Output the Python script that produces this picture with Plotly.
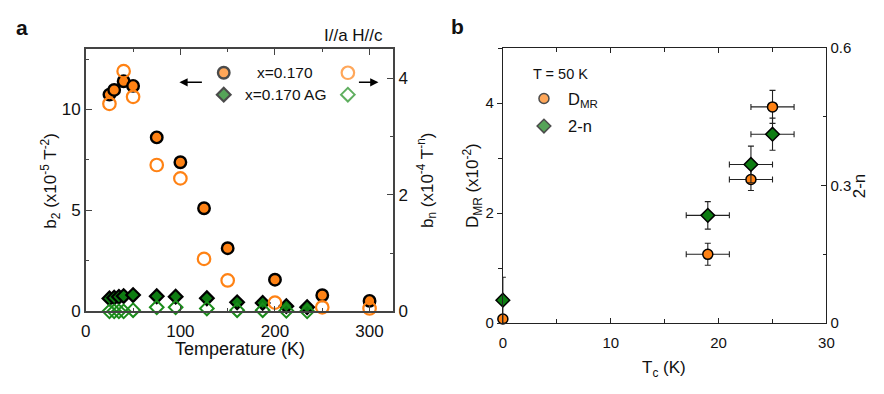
import plotly.graph_objects as go

W, H = 884, 394
FONT = "Liberation Sans, Arial, sans-serif"
ORANGE = "#FF8214"
GREEN = "#0E7D12"
GREEN_OPEN = "#1B8C1B"

# ---------------- data: panel a ----------------
T_b2 = [25, 30, 40, 50, 75, 100, 125, 150, 200, 250, 300]
b2 = [10.74, 10.97, 11.4, 11.17, 8.62, 7.39, 5.11, 3.13, 1.57, 0.8, 0.52]

T_bn = [25, 40, 50, 75, 100, 125, 150, 200, 250, 300]
bn = [3.56, 4.12, 3.68, 2.51, 2.28, 0.90, 0.53, 0.15, 0.07, 0.05]

T_ag = [25, 30, 35, 40, 50, 75, 95, 128, 160, 187, 212, 234]
b2_ag = [0.64, 0.68, 0.72, 0.76, 0.81, 0.75, 0.73, 0.65, 0.45, 0.42, 0.26, 0.21]
bn_ag = [0.0, 0.0, 0.0, 0.0, 0.02, 0.07, 0.07, 0.05, 0.02, 0.02, 0.01, 0.0]

# ---------------- data: panel b ----------------
Tc = [0, 19, 23, 25]
Tc_err = [0, 2, 2, 2]
D_MR = [0.075, 1.25, 2.61, 3.93]
D_MR_err = [0, 0.2, 0.2, 0.3]
two_n = [0.05, 0.235, 0.346, 0.412]
two_n_err = [0.05, 0.03, 0.04, 0.035]

# legend glyph layout (pixel positions on an invisible full-page axis)
LEG_A = dict(x=[222, 348, 222, 348], y=[67, 67, 90, 90])
LEG_B = dict(x=[547, 547], y=[94, 123])


def px(x):
    return x / W


def py(y):
    return 1 - y / H


fig = go.Figure()

# panel a: left axis traces
fig.add_trace(go.Scatter(
    x=T_ag, y=b2_ag, mode="markers", xaxis="x", yaxis="y", cliponaxis=False,
    marker=dict(symbol="diamond", size=10.5, color=GREEN, line=dict(color="black", width=2.2))))
fig.add_trace(go.Scatter(
    x=T_b2, y=b2, mode="markers", xaxis="x", yaxis="y", cliponaxis=False,
    marker=dict(symbol="circle", size=11.5, color=ORANGE, line=dict(color="black", width=2.4))))
# panel a: right axis traces
fig.add_trace(go.Scatter(
    x=T_ag, y=bn_ag, mode="markers", xaxis="x", yaxis="y2", cliponaxis=False,
    marker=dict(symbol="diamond-open", size=10.5, color=GREEN_OPEN, line=dict(color=GREEN_OPEN, width=2))))
fig.add_trace(go.Scatter(
    x=T_bn, y=bn, mode="markers", xaxis="x", yaxis="y2", cliponaxis=False,
    marker=dict(symbol="circle-open", size=12.5, color=ORANGE, line=dict(color=ORANGE, width=2.2))))

# panel b
EB = dict(type="data", thickness=1.1, width=3, color="#222")
fig.add_trace(go.Scatter(
    x=Tc, y=D_MR, mode="markers", xaxis="x3", yaxis="y3", cliponaxis=False,
    error_x=dict(array=Tc_err, **EB), error_y=dict(array=D_MR_err, **EB),
    marker=dict(symbol="circle", size=10, color=ORANGE, line=dict(color="black", width=1.5))))
fig.add_trace(go.Scatter(
    x=Tc, y=two_n, mode="markers", xaxis="x3", yaxis="y4", cliponaxis=False,
    error_x=dict(array=Tc_err, **EB), error_y=dict(array=two_n_err, **EB),
    marker=dict(symbol="diamond", size=10.5, color=GREEN, line=dict(color="black", width=1.5))))

# legend glyphs (invisible overlay axis spanning the page, in pixels)
fig.add_trace(go.Scatter(
    x=LEG_A["x"], y=LEG_A["y"], mode="markers", xaxis="x5", yaxis="y5", cliponaxis=False,
    marker=dict(symbol=["circle", "circle-open", "diamond", "diamond-open"],
                size=[11.5, 12.5, 10.5, 10.5],
                color=[ORANGE, ORANGE, GREEN, GREEN_OPEN],
                line=dict(color=["black", ORANGE, "black", GREEN_OPEN], width=[2.4, 2.2, 2.2, 2]))))
fig.add_trace(go.Scatter(
    x=LEG_B["x"], y=LEG_B["y"], mode="markers", xaxis="x5", yaxis="y5", cliponaxis=False,
    marker=dict(symbol=["circle", "diamond"], size=[10, 10.5], color=[ORANGE, GREEN],
                line=dict(color="black", width=1.5))))

TICKF_A = dict(family=FONT, size=17, color="#111")
TICKF_B = dict(family=FONT, size=15, color="#111")
LA = dict(showline=True, linecolor="#444", linewidth=1.6, showgrid=False, zeroline=False,
          ticks="inside", ticklen=6, tickwidth=1.4, tickcolor="#444", tickfont=TICKF_A)
LB = dict(showline=True, linecolor="#222", linewidth=1.2, showgrid=False, zeroline=False,
          ticks="inside", ticklen=5, tickwidth=1.1, tickcolor="#222", tickfont=TICKF_B)

fig.update_layout(
    width=W, height=H, margin=dict(l=0, r=0, t=0, b=0),
    paper_bgcolor="white", plot_bgcolor="rgba(0,0,0,0)", showlegend=False,
    font=dict(family=FONT, color="#111"),
    xaxis=dict(domain=[px(82), px(394)], range=[0, 325], tickvals=[0, 100, 200, 300],
               minor=dict(dtick=50, ticks="inside", ticklen=3.5, tickcolor="#444"),
               mirror="ticks", anchor="y", ticklabelstandoff=3, **LA),
    yaxis=dict(domain=[py(317.7), py(42)], range=[0, 13], tickvals=[0, 5, 10],
               minor=dict(dtick=2.5, ticks="inside", ticklen=3.5, tickcolor="#444"),
               anchor="x", **LA),
    yaxis2=dict(overlaying="y", side="right", range=[0, 4.5], tickvals=[0, 2, 4],
                minor=dict(dtick=1, ticks="inside", ticklen=3.5, tickcolor="#444"),
                anchor="x", **LA),
    xaxis3=dict(domain=[px(505.3), px(833.7)], range=[0, 30], tickvals=[0, 10, 20, 30],
                minor=dict(dtick=5, ticks="inside", ticklen=3.5, tickcolor="#222"),
                mirror="ticks", anchor="y3", ticklabelstandoff=6, **LB),
    yaxis3=dict(domain=[py(330), py(41)], range=[0, 5], tickvals=[0, 2, 4],
                minor=dict(dtick=1, ticks="outside", ticklen=3.5, tickcolor="#222"),
                anchor="x3", **{**LB, "ticks": "outside"}),
    yaxis4=dict(overlaying="y3", side="right", range=[0, 0.6], tickvals=[0, 0.3, 0.6],
                minor=dict(dtick=0.15, ticks="inside", ticklen=3.5, tickcolor="#222"),
                anchor="x3", **LB),
    xaxis5=dict(domain=[0, 1], range=[0, W], visible=False, fixedrange=True),
    yaxis5=dict(domain=[0, 1], range=[H, 0], visible=False, fixedrange=True, anchor="x5"),
)


def ann(text, x, y, size, xanchor="center", angle=0, bold=False):
    t = f"<b>{text}</b>" if bold else text
    fig.add_annotation(text=t, x=px(x), y=py(y), xref="paper", yref="paper",
                       showarrow=False, xanchor=xanchor, yanchor="middle", textangle=angle,
                       font=dict(family=FONT, size=size, color="#111"))


ann("a", 17.5, 19, 21, bold=True)
ann("b", 459.5, 18, 21, bold=True)
ann("I//a H//c", 386, 28, 17, xanchor="right")
ann("Temperature (K)", 238, 357, 18)
ann("b<sub>2</sub> (x10<sup>-5</sup> T<sup>-2</sup>)", 46, 180, 17, angle=-90)
ann("b<sub>n</sub> (x10<sup>-4</sup> T<sup>-n</sup>)", 428, 180, 17, angle=-90)
ann("x=0.170", 284, 67, 15.5)
ann("x=0.170 AG", 285, 90, 15.5)
ann("T = 50 K", 534, 68, 14.5, xanchor="left")
ann("D<sub>MR</sub>", 569, 96, 16.5, xanchor="left")
ann("2-n", 569, 123, 16.5, xanchor="left")
ann("T<sub>c</sub> (K)", 669, 378, 17)
ann("D<sub>MR</sub> (x10<sup>-2</sup>)", 474, 186, 17, angle=-90)
ann("2-n", 867, 186, 17, angle=-90)

# legend arrows
for tip, dx in ((177, 24), (379, -21)):
    fig.add_annotation(x=px(tip), y=py(77), xref="paper", yref="paper", text="",
                       showarrow=True, ax=dx, ay=0, arrowhead=2, arrowsize=1.1,
                       arrowwidth=1.5, arrowcolor="black")

fig.write_html("out.html")
